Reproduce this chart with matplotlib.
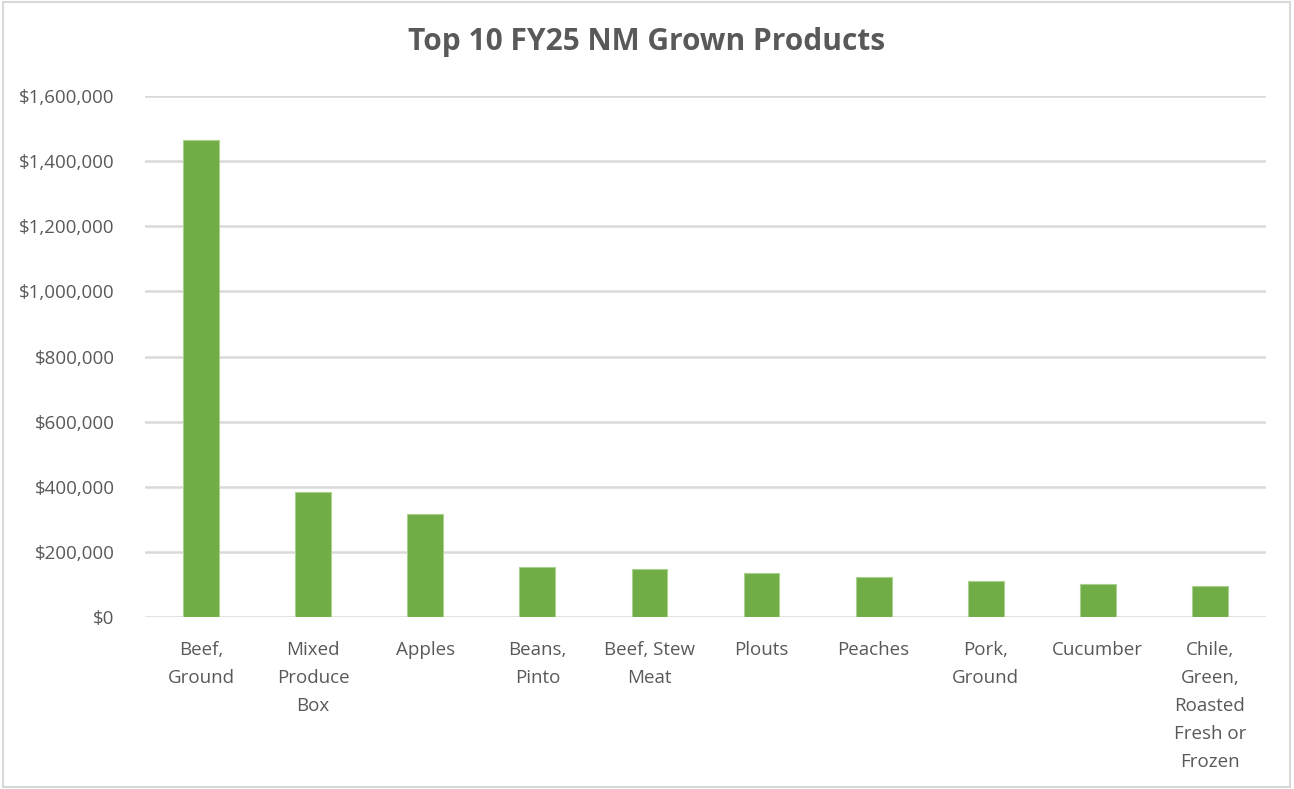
import matplotlib
matplotlib.use("Agg")
import matplotlib.pyplot as plt
from matplotlib.patches import Rectangle
from matplotlib.ticker import FuncFormatter

categories = ["Beef,\nGround", "Mixed\nProduce\nBox", "Apples", "Beans,\nPinto",
              "Beef, Stew\nMeat", "Plouts", "Peaches", "Pork,\nGround", "Cucumber",
              "Chile,\nGreen,\nRoasted\nFresh or\nFrozen"]
values = [1466000, 383000, 317000, 153000, 148000, 134000, 122000, 110000, 102000, 94000]
y_ticks = [0, 200000, 400000, 600000, 800000, 1000000, 1200000, 1400000, 1600000]
title = "Top 10 FY25 NM Grown Products"

plt.rcParams['font.family'] = ['Open Sans', 'DejaVu Sans']
text_color = "#595959"

fig = plt.figure(figsize=(12.94, 7.89), dpi=100)
ax = fig.add_axes([145/1294, 1 - 617/789, (1266-145)/1294, (617-96)/789])

x = list(range(len(categories)))
ax.bar(x, values, width=0.32, color="#70AD47", edgecolor="#A9D18E", linewidth=0.8, zorder=3)

ax.set_xlim(-0.5, len(categories) - 0.5)
ax.set_ylim(0, 1600000)
ax.set_yticks(y_ticks)
ax.yaxis.set_major_formatter(FuncFormatter(lambda v, p: "${:,.0f}".format(v)))
ax.set_xticks(x)
ax.set_xticklabels(categories, linespacing=1.72)

ax.grid(axis='y', color="#D9D9D9", linewidth=1.8, zorder=0)
ax.set_axisbelow(True)
for s in ax.spines.values():
    s.set_visible(False)
ax.tick_params(axis='both', length=0, labelsize=13.5, colors=text_color)
ax.tick_params(axis='y', pad=22)
ax.tick_params(axis='x', pad=17)

fig.text(0.5, 1 - 42/789, title, ha='center', va='center', fontsize=21.5,
         fontweight='bold', color=text_color)

fig.patches.append(Rectangle((0.002, 0.003), 0.995, 0.994, transform=fig.transFigure,
                             fill=False, edgecolor="#D9D9D9", linewidth=1.5))

fig.savefig("out.png", dpi=100)
